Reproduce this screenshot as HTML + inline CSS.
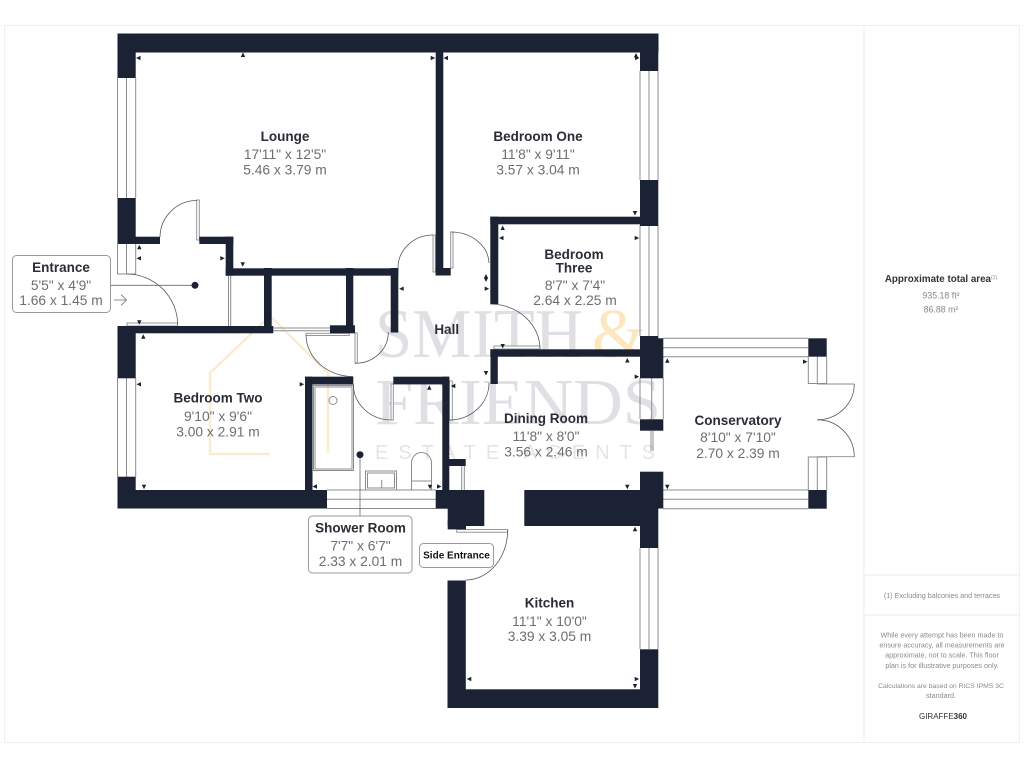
<!DOCTYPE html>
<html><head><meta charset="utf-8"><style>
html,body{margin:0;padding:0;background:#fff;width:1024px;height:768px;overflow:hidden}
svg{display:block}
text{font-family:"Liberation Sans",sans-serif;text-anchor:middle}
.n{font-size:13.5px;font-weight:bold;fill:#2a2d36}
.d{font-size:13.8px;fill:#6e6e72}
.w rect{fill:#1b2233}
.l{fill:none;stroke:#8a8c90;stroke-width:1}
.a{fill:none;stroke:#555a62;stroke-width:.8}
.s{font-size:7.2px;fill:#8a8a8a}
</style></head><body>
<svg width="1024" height="768" viewBox="0 0 1024 768" xmlns="http://www.w3.org/2000/svg">
<defs>
<polygon id="u" points="0,-2.5 2.2,2 -2.2,2" fill="#1b2233"/>
<polygon id="dn" points="0,2.5 2.2,-2 -2.2,-2" fill="#1b2233"/>
<polygon id="lf" points="-2.5,0 2,-2.2 2,2.2" fill="#1b2233"/>
<polygon id="rt" points="2.5,0 -2,-2.2 -2,2.2" fill="#1b2233"/>
</defs>
<!-- frame -->
<g fill="none" stroke="#efefef" stroke-width="1.2">
<rect x="4.5" y="25.5" width="1015" height="717"/>
<path d="M864 25V742M864 575H1019M864 615H1019"/>
</g>
<!-- watermark -->
<g>
<path d="M210 455V373L270 316L328 373V453M209 454H270" fill="none" stroke="#fcebd0" stroke-width="2.5"/>
<text x="479" y="357" textLength="208" lengthAdjust="spacingAndGlyphs" style="font-family:'Liberation Serif',serif;font-size:70px;fill:#e0e0e4">SMITH</text>
<text x="619" y="357" style="font-family:'Liberation Serif',serif;font-size:70px;fill:#fde6c0">&amp;</text>
<text x="518" y="424" textLength="286" lengthAdjust="spacingAndGlyphs" style="font-family:'Liberation Serif',serif;font-size:66px;fill:#e0e0e4">FRIENDS</text>
<text x="515" y="459" textLength="280" style="font-size:20px;fill:#e4e4e8">ESTATE AGENTS</text>
</g>
<!-- windows -->
<g class="l">
<path d="M117.5 78V198M126.5 78V198M135.7 78V198"/>
<path d="M117.5 244V274H135.7M126.5 244V274M135.7 244V274"/>
<path d="M117.5 378V477M126.5 378V477M135.7 378V477"/>
<path d="M640 71V180M649 71V180M658 71V180"/>
<path d="M640 225V336M649 225V336M658 225V336"/>
<path d="M640 378V419M651.7 378V419M663.3 378V419"/>
<path d="M640 548V649M649 548V649M658 548V649"/>
<path d="M327 490H436M327 499.3H436M327 508.5H436"/>
<path d="M663 338.3H808M663 347.7H808M663 356.7H808"/>
<path d="M663 490H808M663 499.3H808M663 508.7H808"/>
<path d="M808.3 356.7V383.5H826.7V356.7M817.3 356.7V383.5"/>
<path d="M808.3 490V457H826.7V490M817.3 490V457"/>
<path d="M273 328H330M273 330.7H330"/>
<path d="M228.5 276V326M230.7 276V326"/>
<path d="M651 431V451M653 431V451"/>
<path d="M461.7 466V490M464.3 466V490"/>
</g>
<!-- fixtures -->
<g fill="none" stroke="#8a8c90" stroke-width="1">
<rect x="313.5" y="385.5" width="40" height="85"/>
<rect x="315" y="387" width="37" height="82"/>
<circle cx="333" cy="400.5" r="4"/>
<rect x="365.5" y="471" width="31" height="19"/>
<rect x="367.5" y="473" width="27" height="15"/>
<path d="M381.7 480V488"/>
<path d="M411.5 490V463A10 10.500 0 0 1 431.500 463V490M411.500 481H431.500"/>
</g>
<!-- door jambs -->
<g fill="#fff" stroke="#8a8c90" stroke-width=".9">
<rect x="196.700" y="200" width="2.600" height="40"/>
<rect x="127" y="323" width="50.500" height="3"/>
<rect x="306" y="333.300" width="43.300" height="2.200"/>
<rect x="355" y="333" width="2.300" height="30"/>
<rect x="391" y="384" width="2.300" height="36"/>
<rect x="449.500" y="381" width="2.800" height="39"/>
<rect x="433" y="235" width="2.300" height="37"/>
<rect x="450.700" y="232" width="2.300" height="36"/>
<rect x="494" y="346" width="46" height="3"/>
<rect x="456.700" y="529.500" width="51" height="2.700"/>
<path d="M817.300 384H854.300M817.300 456.700H854.300" fill="none"/>
</g>
<!-- door arcs -->
<g class="a">
<path d="M197 200.500A37 37 0 0 0 160 237"/>
<path d="M126.700 274A51 51 0 0 1 177.700 325"/>
<path d="M306 335A47 42 0 0 0 353 376.500"/>
<path d="M355 363.300A33 31 0 0 0 388.300 332"/>
<path d="M353.300 384A38 36 0 0 0 391 420"/>
<path d="M489 383A40 37 0 0 1 449.300 420"/>
<path d="M433 235A35 33 0 0 0 398 268"/>
<path d="M450.700 232A38 32 0 0 1 489 263"/>
<path d="M490 304A50 45 0 0 1 540 349"/>
<path d="M507.700 530A42 50 0 0 1 465.700 580"/>
<path d="M854.300 384A37 36 0 0 1 817.300 419.800"/>
<path d="M817.300 419.800A37 37 0 0 1 854.300 457"/>
</g>
<!-- walls -->
<g class="w">
<rect x="117.500" y="33.500" width="541" height="19"/>
<rect x="117.500" y="33.500" width="18.200" height="44.500"/>
<rect x="117.500" y="198" width="18.200" height="46"/>
<rect x="135" y="236.700" width="25" height="7.300"/>
<rect x="199.300" y="236.700" width="34" height="7.300"/>
<rect x="225.700" y="236.700" width="7.600" height="39"/>
<rect x="225.700" y="268.300" width="172.600" height="7.400"/>
<rect x="264" y="268" width="7.700" height="60"/>
<rect x="346" y="268" width="7.300" height="60"/>
<rect x="390.700" y="268" width="7.600" height="64.500"/>
<rect x="117.500" y="326" width="155.800" height="7.300"/>
<rect x="117.500" y="326" width="18.200" height="52.300"/>
<rect x="330" y="325.300" width="25" height="8"/>
<rect x="117.500" y="476.700" width="18.200" height="31.600"/>
<rect x="117.500" y="490" width="209.500" height="18.500"/>
<rect x="305" y="376.700" width="48.300" height="7.800"/>
<rect x="305" y="376.700" width="7.500" height="115"/>
<rect x="393.300" y="376.700" width="56" height="7.700"/>
<rect x="442.300" y="376.700" width="7" height="115"/>
<rect x="449" y="459" width="16.700" height="7"/>
<rect x="435.700" y="490" width="14" height="18.700"/>
<rect x="447.700" y="490" width="36.600" height="36"/>
<rect x="447.700" y="520" width="18.300" height="9.400"/>
<rect x="447.500" y="580.500" width="18.300" height="127.500"/>
<rect x="447.500" y="689.300" width="210.500" height="18.700"/>
<rect x="524.300" y="490" width="116" height="36"/>
<rect x="435.700" y="52" width="7.600" height="223.500"/>
<rect x="435.700" y="268" width="15" height="7.500"/>
<rect x="490.300" y="216.700" width="152" height="7.600"/>
<rect x="490.300" y="216.700" width="8" height="87.300"/>
<rect x="490.300" y="349.300" width="152" height="7.400"/>
<rect x="490.500" y="349.300" width="7.300" height="34.700"/>
<rect x="640" y="33.500" width="18.300" height="37.500"/>
<rect x="640" y="180" width="18.300" height="46"/>
<rect x="640" y="336" width="18.300" height="5"/>
<rect x="640" y="338.300" width="23.300" height="40"/>
<rect x="640" y="419.300" width="23.300" height="11.400"/>
<rect x="640" y="471.700" width="23.300" height="36.800"/>
<rect x="640" y="500" width="18.300" height="48"/>
<rect x="640" y="649.300" width="18.300" height="58.700"/>
<rect x="808.300" y="338.300" width="18.400" height="18.400"/>
<rect x="808.300" y="490" width="18.400" height="18.700"/>
</g>
<!-- ticks -->
<use href="#lf" x="138.500" y="58"/><use href="#u" x="243" y="55"/><use href="#rt" x="432.700" y="58"/><use href="#lf" x="446" y="58"/>
<use href="#u" x="636" y="55.500"/><use href="#rt" x="637" y="58"/><use href="#dn" x="635" y="213"/>
<use href="#u" x="502.700" y="228"/><use href="#lf" x="501.500" y="238"/><use href="#rt" x="636.700" y="238"/>
<use href="#u" x="486" y="276.500"/><use href="#dn" x="486" y="279.500"/><use href="#rt" x="486.700" y="288.700"/><use href="#lf" x="401.700" y="288.700"/>
<use href="#dn" x="502.700" y="346"/><use href="#u" x="627.300" y="360.500"/><use href="#dn" x="486" y="373"/><use href="#rt" x="636.700" y="376.700"/>
<use href="#u" x="139.300" y="247.300"/><use href="#lf" x="139" y="258.300"/><use href="#rt" x="222.300" y="258.300"/><use href="#dn" x="242.700" y="264.300"/>
<use href="#dn" x="139.300" y="322.300"/><use href="#u" x="143.300" y="336.700"/><use href="#lf" x="139" y="384.300"/><use href="#rt" x="301.700" y="384.300"/>
<use href="#dn" x="144" y="486.700"/><use href="#lf" x="315" y="486.500"/><use href="#u" x="429.300" y="387.700"/><use href="#lf" x="453.300" y="386"/>
<use href="#dn" x="430" y="486.700"/><use href="#rt" x="439" y="486.500"/>
<use href="#u" x="667.300" y="360.700"/><use href="#rt" x="805" y="361.700"/><use href="#dn" x="627.300" y="486.700"/><use href="#dn" x="667.300" y="486.700"/>
<use href="#u" x="635" y="529.300"/><use href="#lf" x="469.300" y="679"/><use href="#rt" x="636.700" y="679"/><use href="#dn" x="635" y="686"/>
<!-- leaders -->
<path d="M110 285.300H195M360 455V516" stroke="#666" stroke-width=".8" fill="none"/>
<circle cx="195" cy="285.300" r="3.500" fill="#1b2233"/>
<circle cx="360" cy="454.700" r="3.500" fill="#1b2233"/>
<path d="M114 300H126.500M121 294.500L126.500 300L121 305.500" fill="none" stroke="#8a8c90" stroke-width="1"/>
<!-- label boxes -->
<g fill="#fff" stroke="#9a9a9e" stroke-width="1">
<rect x="12.500" y="255.500" width="98" height="57" rx="4"/>
<rect x="308.500" y="516" width="103.500" height="57" rx="4"/>
<rect x="419.500" y="543.500" width="74" height="24" rx="4"/>
</g>
<!-- room labels -->
<text class="n" x="285" y="141">Lounge</text><text class="d" x="285" y="159">17'11" x 12'5"</text><text class="d" x="285" y="174.500">5.46 x 3.79 m</text>
<text class="n" x="538" y="141">Bedroom One</text><text class="d" x="538" y="159">11'8" x 9'11"</text><text class="d" x="538" y="174.500">3.57 x 3.04 m</text>
<text class="n" x="574" y="259">Bedroom</text><text class="n" x="574" y="272.500">Three</text><text class="d" x="575" y="290">8'7" x 7'4"</text><text class="d" x="575" y="305">2.64 x 2.25 m</text>
<text class="n" x="446.700" y="334">Hall</text>
<text class="n" x="546" y="423">Dining Room</text><text class="d" x="546" y="441">11'8" x 8'0"</text><text class="d" x="546" y="456.500">3.56 x 2.46 m</text>
<text class="n" x="738" y="425">Conservatory</text><text class="d" x="738" y="442">8'10" x 7'10"</text><text class="d" x="738" y="458">2.70 x 2.39 m</text>
<text class="n" x="549.500" y="607.500">Kitchen</text><text class="d" x="549.500" y="626">11'1" x 10'0"</text><text class="d" x="549.500" y="641">3.39 x 3.05 m</text>
<text class="n" x="218" y="402.500">Bedroom Two</text><text class="d" x="218" y="421">9'10" x 9'6"</text><text class="d" x="218" y="436.500">3.00 x 2.91 m</text>
<text class="n" x="360.500" y="532.500">Shower Room</text><text class="d" x="360.500" y="550.500">7'7" x 6'7"</text><text class="d" x="360.500" y="566">2.33 x 2.01 m</text>
<text class="n" x="61" y="272">Entrance</text><text class="d" x="61" y="290">5'5" x 4'9"</text><text class="d" x="61" y="305">1.66 x 1.45 m</text>
<text x="456.500" y="558.500" style="font-size:10px;font-weight:bold;fill:#111">Side Entrance</text>
<!-- sidebar -->
<text x="941" y="282" style="font-size:9.800px;font-weight:bold;fill:#333">Approximate total area<tspan dy="-3" style="font-size:5px;font-weight:normal;fill:#888">(1)</tspan></text>
<text x="941" y="298.500" style="font-size:8.800px;fill:#888">935.18 ft²</text>
<text x="941" y="312.500" style="font-size:8.800px;fill:#888">86.88 m²</text>
<text class="s" x="942" y="598">(1) Excluding balconies and terraces</text>
<text class="s" x="942" y="637.500">While every attempt has been made to</text>
<text class="s" x="942" y="647.500">ensure accuracy, all measurements are</text>
<text class="s" x="942" y="657.500">approximate, not to scale. This floor</text>
<text class="s" x="942" y="668">plan is for illustrative purposes only.</text>
<text class="s" x="941" y="688" style="font-size:6.800px">Calculations are based on RICS IPMS 3C</text>
<text class="s" x="941" y="698">standard.</text>
<text x="943" y="719" style="font-size:8px;fill:#333">GIRAFFE<tspan font-weight="bold">360</tspan></text>
</svg>
</body></html>
